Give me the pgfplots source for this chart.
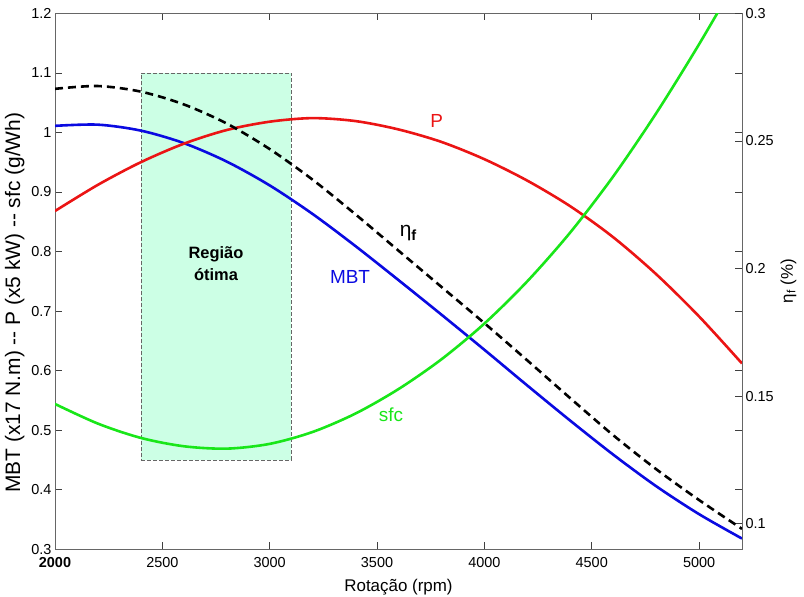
\documentclass[border=0pt]{standalone}
\usepackage{pgfplots}
\pgfplotsset{compat=1.18}
\usepackage{fontspec}
\setmainfont{Liberation Sans}
\definecolor{mred}{RGB}{235,20,20}
\definecolor{mblue}{RGB}{10,10,225}
\definecolor{mgreen}{RGB}{25,230,25}
\definecolor{mint}{RGB}{204,255,229}
\begin{document}
\begin{tikzpicture}
\pgfplotsset{
  every axis/.append style={
    scale only axis, width=687bp, height=536bp,
    xmin=2000, xmax=5200,
    tick align=inside, major tick length=7bp,
    tick style={black!75, line width=0.6pt},
    axis line style={black!60, line width=0.8pt},
    tick label style={font=\fontsize{14.5}{16}\selectfont},
    label style={font=\fontsize{17}{20}\selectfont},
  }
}
\begin{axis}[name=main,
  ymin=0.3, ymax=1.2,
  xtick={2000,2500,3000,3500,4000,4500,5000},
  xticklabels={\textbf{2000},2500,3000,3500,4000,4500,5000},
  xticklabel style={yshift=-5bp},
  ytick={0.3,0.4,0.5,0.6,0.7,0.8,0.9,1.0,1.1,1.2},
  yticklabels={0.3,0.4,0.5,0.6,0.7,0.8,0.9,1,1.1,1.2},
  xtick pos=both, ytick pos=both,
  xticklabel pos=lower, yticklabel pos=left,
  xlabel={Rotação (rpm)},
  xlabel style={yshift=-4bp},
  ylabel={MBT (x17 N.m) -{}- P (x5 kW) -{}- sfc (g/Wh)},
  ylabel style={font=\fontsize{21}{24}\selectfont, at={(ticklabel cs:0.46)}},
]
\addplot[fill=mint, draw=black!60, line width=0.6pt, dash pattern=on 4bp off 2bp] coordinates {(2400,0.45) (3100,0.45) (3100,1.1) (2400,1.1)} -- cycle;
% MBT
\addplot[mblue, line width=2.6bp, smooth] coordinates {
(2000,1.011) (2200,1.013) (2400,1.003) (2600,0.982) (2800,0.951) (3000,0.911)
(3200,0.863) (3400,0.809) (3600,0.752) (3800,0.694) (4000,0.635) (4200,0.575)
(4400,0.516) (4600,0.459) (4800,0.406) (5000,0.359) (5200,0.318)};
% P
\addplot[mred, line width=2.6bp, smooth] coordinates {
(2000,0.868) (2200,0.912) (2400,0.950) (2600,0.981) (2800,1.004) (3000,1.018)
(3200,1.024) (3400,1.019) (3600,1.005) (3800,0.984) (4000,0.955) (4200,0.919)
(4400,0.876) (4600,0.824) (4800,0.762) (5000,0.691) (5200,0.612)};
% sfc
\addplot[mgreen, line width=2.6bp, smooth] coordinates {
(2000,0.544) (2200,0.511) (2400,0.487) (2600,0.473) (2800,0.469) (3000,0.477)
(3200,0.497) (3400,0.528) (3600,0.569) (3800,0.619) (4000,0.679) (4200,0.750)
(4400,0.832) (4600,0.926) (4800,1.032) (5000,1.148) (5200,1.272)};
\node[font=\bfseries\fontsize{16.5}{22}\selectfont, align=center] at (axis cs:2750,0.779) {Região\\ótima};
\node[mred, font=\fontsize{19}{22}\selectfont] at (axis cs:3778,1.020) {P};
\node[mblue, font=\fontsize{19}{22}\selectfont] at (axis cs:3374,0.758) {MBT};
\node[mgreen, font=\fontsize{19}{22}\selectfont] at (axis cs:3565,0.526) {sfc};
\node[black, font=\fontsize{21}{24}\selectfont] at (axis cs:3646,0.831) {η\textsubscript{\textbf{f}}};
\end{axis}
\begin{axis}[
  axis y line*=right, axis x line=none,
  ymin=0.09, ymax=0.3,
  ytick={0.1,0.15,0.2,0.25,0.3},
  yticklabels={0.1,0.15,0.2,0.25,0.3},
  ylabel={η\textsubscript{f} (\%)},
]
\addplot[black, line width=2.6bp, dash pattern=on 8bp off 5bp, smooth] coordinates {
(2000,0.2704) (2200,0.2715) (2400,0.2693) (2600,0.2643) (2800,0.2568) (3000,0.2468)
(3200,0.2348) (3400,0.2212) (3600,0.2070) (3800,0.1928) (4000,0.1786) (4200,0.1640)
(4400,0.1492) (4600,0.1347) (4800,0.1214) (5000,0.1093) (5200,0.0980)};
\end{axis}
\pgfresetboundingbox
\path[use as bounding box] ([shift={(-55bp,-47bp)}]main.south west) rectangle ([shift={(62bp,13.3bp)}]main.north east);
\end{tikzpicture}
\end{document}
